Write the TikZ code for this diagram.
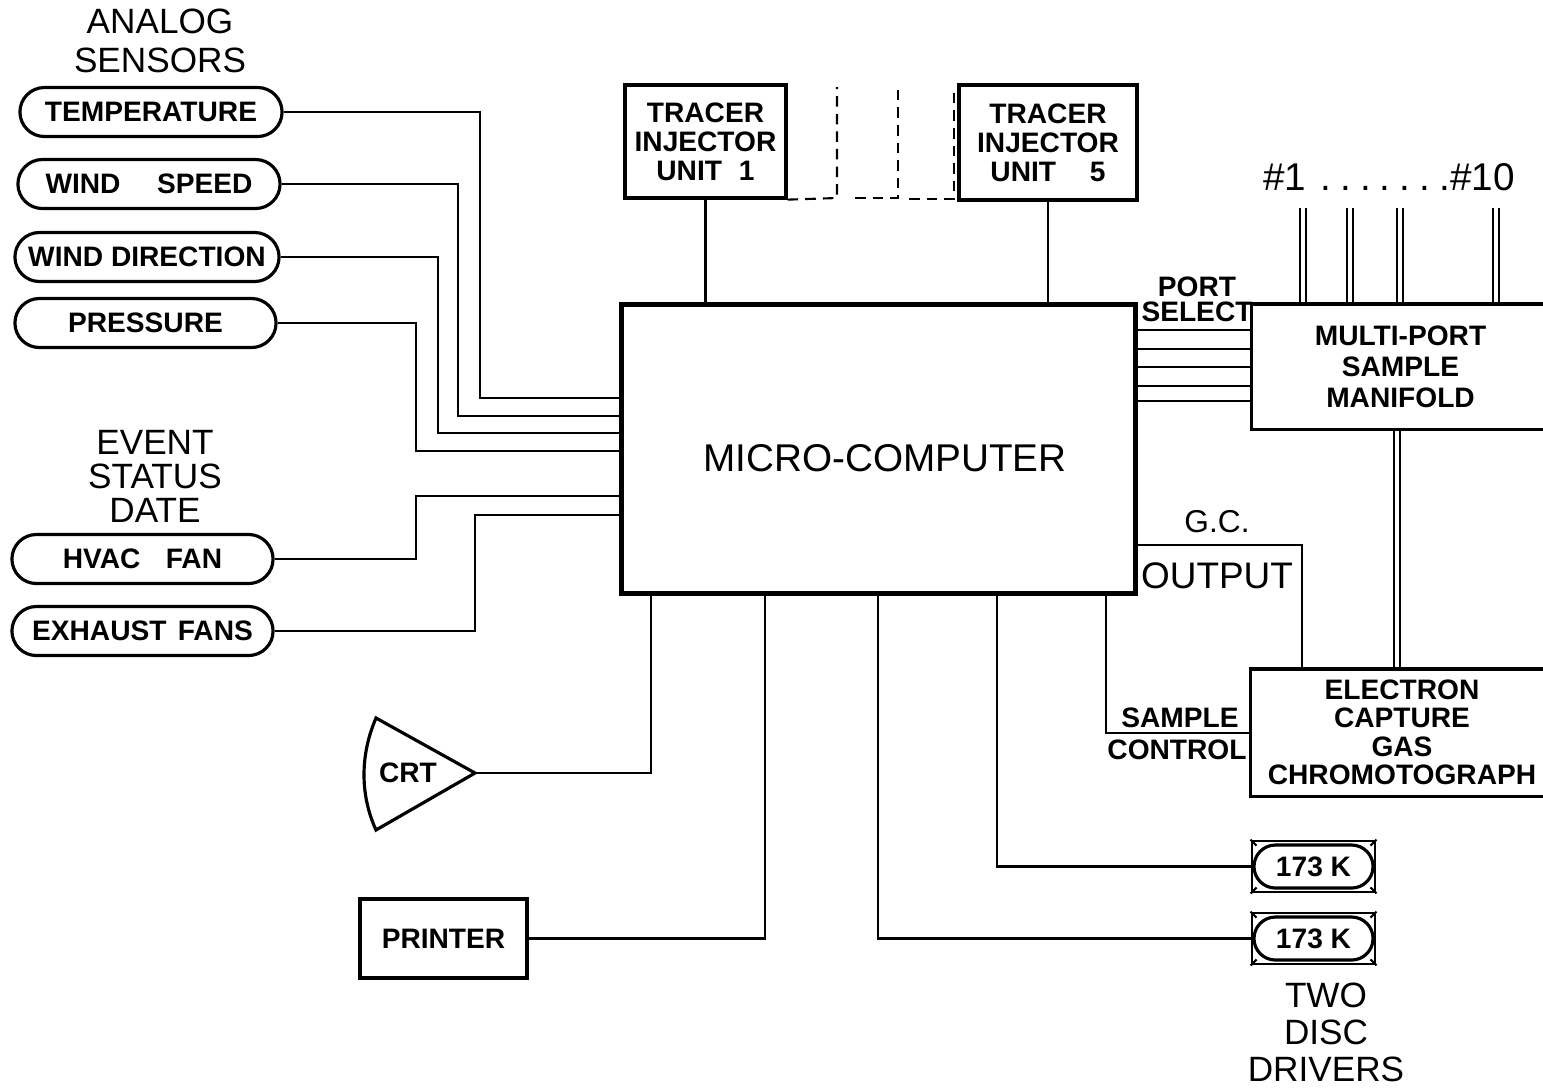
\documentclass[tikz,border=0pt]{standalone}
\usepackage{fontspec}
\setmainfont{Liberation Sans}
\usetikzlibrary{positioning}
\newcommand{\pdot}{.\hspace{2.6pt}}

\begin{document}
\begin{tikzpicture}[
  x=0.01cm, y=-0.01cm,
  line width=0.6pt,
  sensor/.style={rectangle, draw, line width=0.9pt, rounded corners=0.245cm,
                 minimum width=2.62cm, minimum height=0.49cm, inner sep=0pt,
                 font=\fontsize{8}{8}\selectfont\bfseries},
  block/.style={rectangle, draw, line width=0.9pt, align=center, inner sep=0pt,
                font=\fontsize{8}{8.3}\selectfont\bfseries},
  lbl/.style={align=center, inner sep=0pt, font=\fontsize{8}{7.2}\selectfont\bfseries},
  head/.style={align=center, inner sep=0pt, font=\fontsize{10}{10.5}\selectfont},
  dsh/.style={dash pattern=on 3pt off 2pt}
]
  \useasboundingbox (0,0) rectangle (1543,1090);

  % sensors on the left
  \node[head, font=\fontsize{10}{11.1}\selectfont] (ana) at (160,41) {ANALOG\\SENSORS};
  \node[sensor] (tmp) at (151,112) {TEMPERATURE};
  \node[sensor] (ws) at (149,184) {WIND\hspace{1.3em}SPEED};
  \node[sensor, minimum width=2.64cm] (wd) at (147,257) {WIND DIRECTION};
  \node[sensor, minimum width=2.61cm] (pr) at (145.5,323) {PRESSURE};
  \node[head, font=\fontsize{10}{9.7}\selectfont] (evt) at (155,476) {EVENT\\STATUS\\DATE};
  \node[sensor, minimum width=2.61cm] (hv) at (142.5,559) {HVAC\hspace{0.9em}FAN};
  \node[sensor, minimum width=2.61cm] (ex) at (142.5,631) {EXHAUST\hspace{0.4em}FANS};

  % computer
  \node[rectangle, draw, line width=1.4pt, minimum width=5.13cm, minimum height=2.88cm] (mc) at (878.5,449) {};
  \node[font=\fontsize{11}{11}\selectfont, inner sep=0pt] (mct) at (885,458) {MICRO-COMPUTER};

  \draw (tmp.east) -| (480,398) -- (mc.west |- 0,398);
  \draw (ws.east) -| (458,416) -- (mc.west |- 0,416);
  \draw (wd.east) -| (438,433) -- (mc.west |- 0,433);
  \draw (pr.east) -| (416,451) -- (mc.west |- 0,451);
  \draw (hv.east) -| (416,496) -- (mc.west |- 0,496);
  \draw (ex.east) -| (475,515) -- (mc.west |- 0,515);

  % tracer injectors
  \node[block, minimum width=1.61cm, minimum height=1.13cm] (ti1) at (705.5,141.5)
       {TRACER\\INJECTOR\\UNIT\hspace{0.6em}1};
  \node[block, minimum width=1.78cm, minimum height=1.15cm] (ti5) at (1048,142.5)
       {TRACER\\INJECTOR\\UNIT\hspace{1.2em}5};
  \draw[dsh] (ti1.south east) -- (837,198) -- (837,87);
  \draw[dsh] (855,198) -- (898,198) -- (898,87);
  \draw[dsh] (909,199) -- (954,199) -- (954,87);
  \draw (ti1.south) -- (ti1.south |- mc.north);
  \draw (ti5.south) -- (ti5.south |- mc.north);

  % sample manifold
  \node[lbl, font=\fontsize{8}{8.8}\selectfont\bfseries, minimum width=2.95cm,
        minimum height=1.23cm] (mp) at (1400.5,366.5) {MULTI-PORT\\SAMPLE\\MANIFOLD};
  \draw[line width=0.9pt] (mp.north east) -- (mp.north west) -- (mp.south west) -- (mp.south east);
  \node[lbl] (ps) at (1197,299) {PORT\\SELECT};
  \foreach \py in {330,349,367,386,401}
    \draw (mc.east |- 0,\py) -- (mp.west |- 0,\py);
  \node[font=\fontsize{11}{11}\selectfont, inner sep=0pt] (ports) at (1389,177)
       {\#1\hspace{4pt}\pdot\pdot\pdot\pdot\pdot\pdot.\#10};
  \foreach \px in {1300,1306,1347,1353,1397,1403,1493,1499}
    \draw (mp.north -| \px,0) -- ++(0,-96);

  % chromatograph
  \node[lbl, font=\fontsize{8}{8.1}\selectfont\bfseries, minimum width=3.0cm,
        minimum height=1.25cm] (ecd) at (1402,732.5) {ELECTRON\\CAPTURE\\GAS\\CHROMOTOGRAPH};
  \draw[line width=0.9pt] (ecd.north east) -- (ecd.north west) -- (ecd.south west) -- (ecd.south east);
  \draw (mp.south -| 1394,0) -- (ecd.north -| 1394,0);
  \draw (mp.south -| 1400,0) -- (ecd.north -| 1400,0);
  \draw (mc.east |- 0,545) -| (ecd.north -| 1302,0);
  \node[font=\fontsize{9}{9}\selectfont, inner sep=0pt] (gc) at (1217,522) {G.C.};
  \node[font=\fontsize{10.5}{10.5}\selectfont, inner sep=0pt] (out) at (1217,576) {OUTPUT};
  \draw (mc.south -| 1106,0) |- (ecd.west |- 0,733);
  \node[lbl] (smp) at (1180,718) {SAMPLE};
  \node[lbl] (ctl) at (1177,750) {CONTROL};

  % crt and printer
  \coordinate (crt) at (475,773);
  \draw[line width=0.9pt] (crt) -- (376,718) .. controls (360,755) and (360,795) .. (376,830) -- cycle;
  \node[lbl] (crtl) at (408,773) {CRT};
  \draw (mc.south -| 651,0) |- (crt);
  \node[block, minimum width=1.67cm, minimum height=0.79cm] (prn) at (443.5,938.5) {PRINTER};
  \draw (mc.south -| 765,0) |- (prn.east);

  % disc drivers
  \node[rectangle, draw, line width=0.8pt, minimum width=1.23cm, minimum height=0.51cm] (dd1) at (1313.5,866.5) {};
  \node[rectangle, draw, line width=0.8pt, minimum width=1.23cm, minimum height=0.51cm] (dd2) at (1313.5,938.5) {};
  \foreach \d in {dd1,dd2} {
    \node[sensor, minimum width=1.19cm, minimum height=0.43cm, rounded corners=0.215cm] at (\d) {173 K};
    \draw (\d.north west) -- ++(6,6);
    \draw (\d.north east) -- ++(-6,6);
    \draw (\d.south west) -- ++(6,-6);
    \draw (\d.south east) -- ++(-6,-6);
  }
  \draw (mc.south -| 997,0) |- (dd1.west);
  \draw (mc.south -| 878,0) |- (dd2.west);
  \node[head] (tdd) at (1326,1032) {TWO\\DISC\\DRIVERS};
\end{tikzpicture}
\end{document}
